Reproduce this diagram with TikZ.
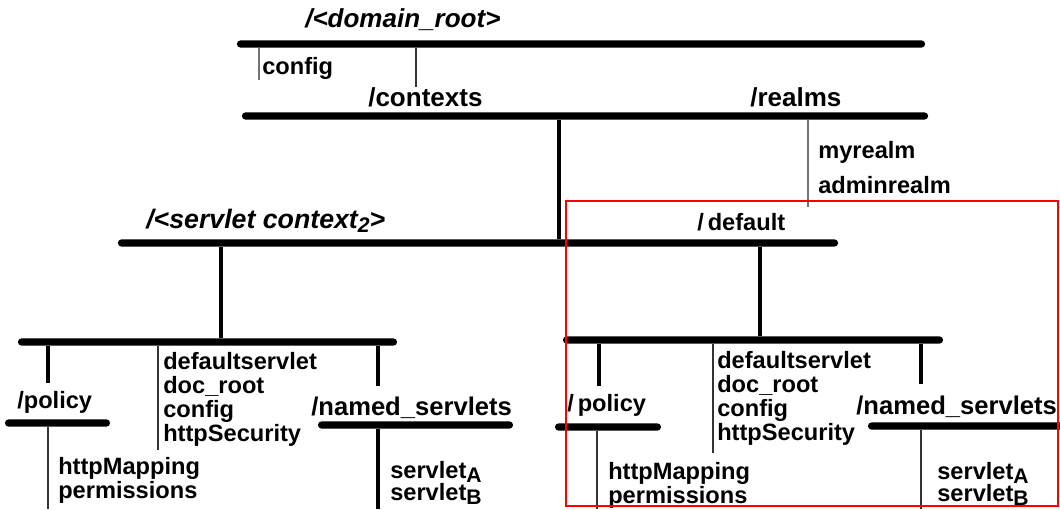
\documentclass[tikz,border=0pt]{standalone}
\usepackage{fontspec}
\setmainfont{Liberation Sans}
\usetikzlibrary{positioning}
\tikzstyle{bar} = [rectangle, rounded corners=2.5pt,
inner sep=0pt,
minimum height=0.18cm,
fill=black]
\tikzstyle{stem} = [line width=2.2pt]
\tikzstyle{slim} = [line width=1.5pt, black!80]
\tikzstyle{faint} = [line width=1.3pt, black!55]
\tikzstyle{lbl} = [inner sep=0pt, align=left,
font=\bfseries\fontsize{16.8}{17.1}\selectfont]
\tikzstyle{head} = [inner sep=0pt, font=\bfseries\fontsize{18.5}{20}\selectfont]
\tikzstyle{wide} = [inner sep=0pt, font=\bfseries\fontsize{18.2}{20}\selectfont]
\tikzstyle{ital} = [inner sep=0pt, font=\bfseries\itshape\fontsize{18.5}{20}\selectfont]
\newcommand{\lowcap}[1]{\raisebox{-3pt}{\fontsize{15}{15}\selectfont #1}}

\begin{document}
\begin{tikzpicture}[x=0.025cm, y=-0.025cm]
        \useasboundingbox (0,0) rectangle (1060,509);
        % bars
        \node (root) [bar, minimum width=17.2cm] at (581,44) {};
        \node (ctxbar) [bar, minimum width=17.15cm] at (585,116) {};
        \node (scbar) [bar, minimum width=18cm] at (478,243) {};
        \node (lbar) [bar, minimum width=9.475cm] at (207.5,342) {};
        \node (rbar) [bar, minimum width=9.5cm] at (753,340) {};
        \node (lpolbar) [bar, minimum width=2.625cm] at (57.5,423) {};
        \node (lnsbar) [bar, minimum width=4.875cm] at (415.5,425) {};
        \node (rpolbar) [bar, minimum width=2.65cm] at (608,427) {};
        \node (rnsbar) [bar, minimum width=5cm] at (968,426) {};
        % labels
        \node (droot) [ital, anchor=west] at (305,20) {/<domain\_root>};
        \node (cfg) [lbl, anchor=west] at (262,68) {config};
        \node (ctx) [head, anchor=west] at (368,97) {/contexts};
        \node (realms) [head, anchor=west] at (750,97) {/realms};
        \node (myrealm) [lbl, anchor=base west] at (818,158) {myrealm};
        \node (admin) [lbl, anchor=base west] at (818,193) {adminrealm};
        \node (sctx) [ital, font=\bfseries\itshape\fontsize{19}{20}\selectfont, anchor=west] at (146,221) {/<servlet context\lowcap{2}>};
        \node (dflt) [lbl, anchor=west] at (697,222) {/\,default};
        % left servlet context
        \node (lmid) [lbl, anchor=north west] at (163,352) {defaultservlet\\doc\_root\\config\\httpSecurity};
        \node (lpol) [lbl, anchor=west] at (17,402) {/policy};
        \node (lns) [wide, anchor=west] at (311,408) {/named\_servlets};
        \node (lmap) [lbl, anchor=north west] at (58,457) {httpMapping\\permissions};
        \node (lsa) [lbl, anchor=base west] at (390,478) {servlet\lowcap{A}};
        \node (lsb) [lbl, anchor=base west] at (390,500) {servlet\lowcap{B}};
        % default context
        \node (rmid) [lbl, anchor=north west] at (717,351) {defaultservlet\\doc\_root\\config\\httpSecurity};
        \node (rpol) [lbl, anchor=west] at (567,405) {/\,policy};
        \node (rns) [wide, anchor=west] at (856,407) {/named\_servlets};
        \node (rmap) [lbl, anchor=north west] at (608,462) {httpMapping\\permissions};
        \node (rsa) [lbl, anchor=base west] at (937,479) {servlet\lowcap{A}};
        \node (rsb) [lbl, anchor=base west] at (937,501) {servlet\lowcap{B}};
        % stem ends
        \coordinate (cfgend) at (259,80);
        \coordinate (ctxend) at (416,87);
        \coordinate (trunk) at (559,180);
        \coordinate (realmend) at (808,207);
        \coordinate (lstem) at (221,300);
        \coordinate (rstem) at (760,300);
        \coordinate (lpoltop) at (48,383);
        \coordinate (lmidend) at (158,450);
        \coordinate (lnstop) at (378,386);
        \coordinate (lpolend) at (48,509);
        \coordinate (lnsend) at (378,509);
        \coordinate (rpoltop) at (599,386);
        \coordinate (rmidend) at (713,453);
        \coordinate (rnstop) at (921,384);
        \coordinate (rpolend) at (597,509);
        \coordinate (rnsend) at (921,509);
        % stems
        \draw [faint] (root.south -| cfgend) -- (cfgend);
        \draw [slim] (root.south -| ctxend) -- (ctxend);
        \draw [stem] (ctxbar.south -| trunk) -- (scbar.north -| trunk);
        \draw [faint] (ctxbar.south -| realmend) -- (realmend);
        \draw [stem] (scbar.south -| lstem) -- (lbar.north -| lstem);
        \draw [stem] (scbar.south -| rstem) -- (rbar.north -| rstem);
        \draw [stem] (lbar.south -| lpoltop) -- (lpoltop);
        \draw [slim] (lbar.south -| lmidend) -- (lmidend);
        \draw [stem] (lbar.south -| lnstop) -- (lnstop);
        \draw [slim] (lpolbar.south -| lpolend) -- (lpolend);
        \draw [stem, line width=2.8pt] (lnsbar.south -| lnsend) -- (lnsend);
        \draw [stem] (rbar.south -| rpoltop) -- (rpoltop);
        \draw [slim] (rbar.south -| rmidend) -- (rmidend);
        \draw [stem] (rbar.south -| rnstop) -- (rnstop);
        \draw [slim] (rpolbar.south -| rpolend) -- (rpolend);
        \draw [slim] (rnsbar.south -| rnsend) -- (rnsend);
        % frame
        \draw [red, line width=1.6pt] (566,201) rectangle (1058,506);
    \end{tikzpicture}
\end{document}
